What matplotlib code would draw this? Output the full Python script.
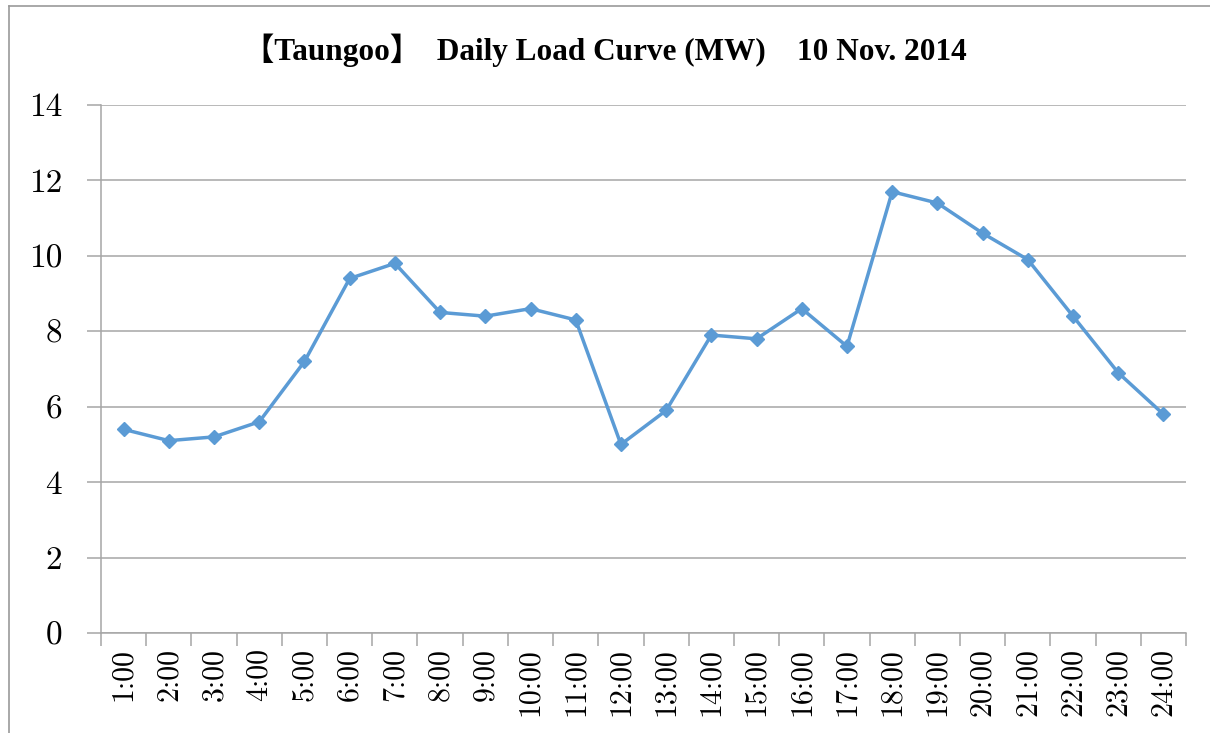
import matplotlib
matplotlib.use('Agg')
import matplotlib.pyplot as plt
from matplotlib.lines import Line2D

# hourly load, Taungoo, 10 Nov 2014
hours = [f'{h}:00' for h in range(1, 25)]
load_mw = [5.4, 5.1, 5.2, 5.6, 7.2, 9.4, 9.8, 8.5, 8.4, 8.6, 8.3, 5.0,
           5.9, 7.9, 7.8, 8.6, 7.6, 11.7, 11.4, 10.6, 9.9, 8.4, 6.9, 5.8]
y_ticks = [0, 2, 4, 6, 8, 10, 12, 14]

plt.rcParams['axes.formatter.use_mathtext'] = True
LINE_COLOR = '#5B9BD5'
GRID_COLOR = '#A6A6A6'
TICK_FONT = 'cmr10'

fig = plt.figure(figsize=(12.1, 7.33), dpi=100)
ax = fig.add_axes([0.0835, 0.1364, 0.8967, 0.7204])

x = list(range(len(hours)))
ax.plot(x, load_mw, color=LINE_COLOR, lw=2.5, marker='D', ms=7,
        mfc=LINE_COLOR, mec=LINE_COLOR, zorder=3)

ax.set_xlim(-0.5, len(hours) - 0.5)
ax.set_ylim(0, 14)
ax.set_yticks(y_ticks)
ax.set_yticklabels([str(v) for v in y_ticks], fontfamily=TICK_FONT, fontsize=24)
ax.yaxis.grid(True, color=GRID_COLOR, lw=1.1)
ax.set_axisbelow(True)

# category labels centred, tick marks on boundaries
ax.set_xticks(x)
ax.set_xticklabels(hours, rotation=90, fontfamily=TICK_FONT, fontsize=21.5)
ax.tick_params(axis='x', which='major', length=0, pad=11)
ax.set_xticks([i - 0.5 for i in range(len(hours) + 1)], minor=True)
ax.tick_params(axis='x', which='minor', length=9, width=1.1, color=GRID_COLOR,
               direction='out')
ax.tick_params(axis='y', length=10, width=1.1, color=GRID_COLOR, pad=18)

for side in ['top', 'right']:
    ax.spines[side].set_visible(False)
for side in ['left', 'bottom']:
    ax.spines[side].set_color(GRID_COLOR)
    ax.spines[side].set_linewidth(1.1)

fig.text(0.5, 0.932, '【Taungoo】  Daily Load Curve (MW)　10 Nov. 2014',
         ha='center', va='center', fontsize=22.5, fontweight='bold',
         family=['Liberation Serif', 'Noto Sans CJK JP'])

# chart-area border (partly cut off in the original)
fig.add_artist(Line2D([9 / 1210, 9 / 1210], [0, 1 - 6 / 733],
                      transform=fig.transFigure, color='#9A9A9A', lw=1.2))
fig.add_artist(Line2D([9 / 1210, 1], [1 - 6 / 733, 1 - 6 / 733],
                      transform=fig.transFigure, color='#9A9A9A', lw=1.2))

fig.savefig('out.png', dpi=100)
